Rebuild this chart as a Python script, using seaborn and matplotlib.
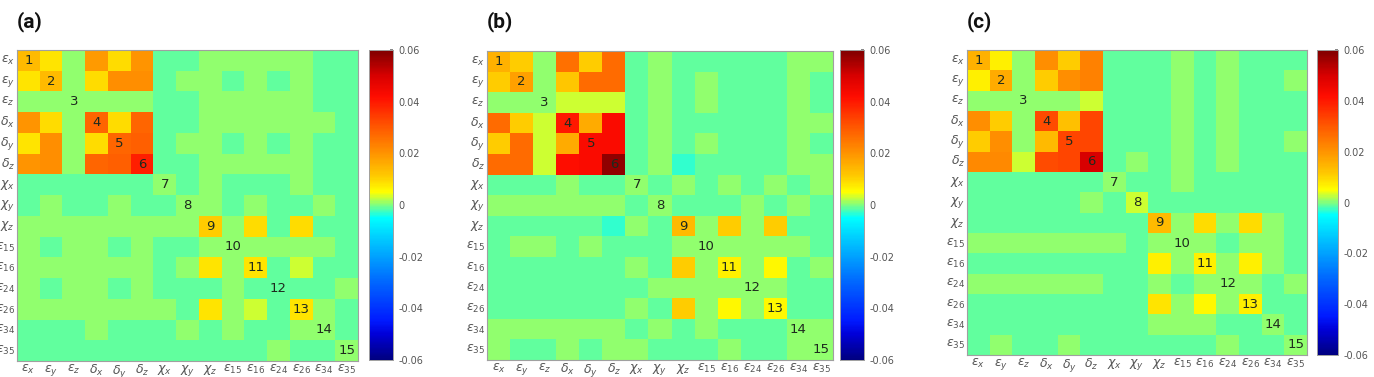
import numpy as np
import matplotlib
matplotlib.use("Agg")
import matplotlib.pyplot as plt
from matplotlib.colors import LinearSegmentedColormap
import seaborn as sns

sns.set_theme(style="white")
plt.rcParams['font.family'] = ['DejaVu Sans']
plt.rcParams['mathtext.fontset'] = 'dejavusans'

# ---------------- data ----------------
labels = [r'$\varepsilon_x$', r'$\varepsilon_y$', r'$\varepsilon_z$',
          r'$\delta_x$', r'$\delta_y$', r'$\delta_z$',
          r'$\chi_x$', r'$\chi_y$', r'$\chi_z$',
          r'$\varepsilon_{15}$', r'$\varepsilon_{16}$', r'$\varepsilon_{24}$',
          r'$\varepsilon_{26}$', r'$\varepsilon_{34}$', r'$\varepsilon_{35}$']
diag_labels = [str(i) for i in range(1, 16)]
panel_titles = ['(a)', '(b)', '(c)']
cbar_ticks = [-0.06, -0.04, -0.02, 0, 0.02, 0.04, 0.06]
cbar_ticklabels = ['-0.06', '-0.04', '-0.02', '0', '0.02', '0.04', '0.06']

M = -0.001   # mint green
G = 0.0007   # light green
L = 0.003    # yellow-green

corr_a = [
    [0.014, 0.008, G, 0.019, 0.009, 0.020, M, M, G, G, G, G, G, M, M],
    [0.008, 0.014, G, 0.009, 0.021, 0.021, M, G, G, M, G, M, G, M, M],
    [G, G, G, G, G, G, M, M, G, G, G, G, G, M, M],
    [0.020, 0.009, G, 0.028, 0.009, 0.028, M, M, G, G, G, G, G, G, M],
    [0.008, 0.021, G, 0.009, 0.028, 0.029, M, G, G, M, G, M, G, M, M],
    [0.020, 0.021, G, 0.028, 0.029, 0.039, M, M, G, G, G, G, G, M, M],
    [M, M, M, M, M, M, G, M, G, M, M, M, G, M, M],
    [M, G, M, M, G, M, M, G, G, M, G, M, M, G, M],
    [G, G, G, G, G, G, G, G, 0.011, G, 0.009, M, 0.009, M, M],
    [G, M, G, G, M, G, M, M, G, G, G, G, G, G, M],
    [G, G, G, G, G, G, M, G, 0.008, G, 0.008, M, L, M, M],
    [G, M, G, G, M, G, M, M, M, G, M, M, M, M, G],
    [G, G, G, G, G, G, G, M, 0.008, G, L, M, 0.008, G, M],
    [M, M, M, G, M, M, M, G, M, G, M, M, G, G, M],
    [M, M, M, M, M, M, M, M, M, M, M, G, M, M, G],
]

corr_b = [
    [0.015, 0.011, G, 0.026, 0.011, 0.027, M, G, M, M, M, M, M, G, G],
    [0.011, 0.018, G, 0.012, 0.027, 0.027, M, G, M, G, M, M, M, G, M],
    [G, G, G, L, L, L, M, G, M, G, M, M, M, G, M],
    [0.027, 0.011, L, 0.040, 0.016, 0.043, M, G, M, M, M, M, M, G, G],
    [0.011, 0.027, L, 0.016, 0.043, 0.043, M, G, M, G, M, M, M, G, M],
    [0.027, 0.027, L, 0.042, 0.043, 0.058, M, G, -0.003, M, M, M, M, G, G],
    [M, M, M, G, M, M, G, M, G, M, G, M, G, M, G],
    [G, G, G, G, G, G, M, G, M, M, M, G, M, G, M],
    [M, M, M, M, M, -0.003, G, M, 0.014, G, 0.011, G, 0.011, M, M],
    [M, G, G, M, G, M, M, M, G, G, G, G, G, G, M],
    [M, M, M, M, M, M, G, M, 0.011, G, 0.007, G, 0.006, M, G],
    [M, M, M, M, M, M, M, G, G, G, G, G, G, M, M],
    [M, M, M, M, M, M, G, M, 0.011, G, 0.006, G, 0.006, M, M],
    [G, G, G, G, G, G, M, G, M, G, M, M, M, G, G],
    [G, M, M, G, M, G, G, M, M, M, G, M, M, G, G],
]

corr_c = [
    [0.015, 0.007, G, 0.021, 0.011, 0.023, M, M, M, G, M, G, M, M, M],
    [0.007, 0.016, G, 0.011, 0.021, 0.023, M, M, M, G, M, G, M, M, G],
    [G, G, G, G, G, L, M, M, M, G, M, G, M, M, M],
    [0.021, 0.011, G, 0.032, 0.013, 0.033, M, M, M, G, M, G, M, M, M],
    [0.011, 0.021, G, 0.014, 0.033, 0.033, M, M, M, G, M, G, M, M, G],
    [0.022, 0.022, L, 0.032, 0.033, 0.050, M, G, M, G, M, G, M, M, M],
    [M, M, M, M, M, M, G, M, M, G, M, M, M, M, M],
    [M, M, M, M, M, G, M, L, M, M, M, M, M, M, M],
    [M, M, M, M, M, M, M, M, 0.014, G, 0.009, G, 0.009, G, M],
    [G, G, G, G, G, G, G, M, G, G, G, M, G, G, M],
    [M, M, M, M, M, M, M, M, 0.007, G, 0.007, G, 0.007, G, M],
    [G, G, G, G, G, G, M, M, G, M, G, G, G, M, G],
    [M, M, M, M, M, M, M, M, 0.008, G, 0.006, G, 0.007, M, M],
    [M, M, M, M, M, M, M, M, G, G, G, M, M, G, M],
    [M, G, M, M, G, M, M, M, M, M, M, G, M, M, G],
]

# ---------------- colormap (MATLAB-like jet, compressed near 0) ----------------
vmin, vmax = -0.06, 0.06
nodes = [(-0.06, (0.0, 0.0, 0.5)), (-0.05, (0.0, 0.0, 0.85)), (-0.045, (0.0, 0.1, 1.0)),
         (-0.03, (0.0, 0.4, 1.0)), (-0.015, (0.0, 0.75, 1.0)), (-0.005, (0.0, 1.0, 1.0)),
         (0.0, (0.5, 1.0, 0.5)), (0.005, (1.0, 1.0, 0.0)), (0.011, (1.0, 0.8, 0.0)),
         (0.02, (1.0, 0.58, 0.0)), (0.03, (1.0, 0.35, 0.0)), (0.042, (1.0, 0.05, 0.0)),
         (0.05, (0.85, 0.0, 0.0)), (0.06, (0.5, 0.0, 0.0))]
cmap = LinearSegmentedColormap.from_list(
    'jetlike', [((v - vmin) / (vmax - vmin), c) for v, c in nodes])

# ---------------- layout ----------------
W, H = 1374, 377
fig = plt.figure(figsize=(W / 100, H / 100), dpi=100)

def fbox(x0, y0, x1, y1):
    return [x0 / W, 1 - y1 / H, (x1 - x0) / W, (y1 - y0) / H]

axes_px = [(17, 50, 358, 361), (487, 51, 833, 360), (967, 50, 1307, 355)]
cax_px = [(369, 50, 393, 360), (840, 50, 864, 360), (1317, 50, 1338, 355)]
title_px = [(17, 22), (487, 22), (967, 22)]

annot = np.full((15, 15), '', dtype=object)
for i in range(15):
    annot[i, i] = diag_labels[i]

for data, apx, cpx, tpx, title in zip([corr_a, corr_b, corr_c], axes_px, cax_px,
                                       title_px, panel_titles):
    ax = fig.add_axes(fbox(*apx))
    cax = fig.add_axes(fbox(*cpx))
    sns.heatmap(np.array(data), ax=ax, cbar_ax=cax, cmap=cmap, vmin=vmin, vmax=vmax,
                annot=annot, fmt='', annot_kws={'color': '#1e2a1e', 'fontsize': 9.5},
                xticklabels=labels, yticklabels=labels, square=False)
    ax.tick_params(axis='both', which='major', length=0, labelsize=9,
                   labelcolor='#555555', pad=1.5)
    ax.set_xticklabels(labels, rotation=0)
    ax.set_yticklabels(labels, rotation=0)
    ax.set_xticks(np.arange(1, 15), minor=True)
    ax.set_yticks(np.arange(1, 15), minor=True)
    ax.tick_params(which='minor', direction='in', length=2.5, width=0.6,
                   color='#555555', top=True, right=True, bottom=True, left=True)
    for sp in ax.spines.values():
        sp.set_visible(True)
        sp.set_color('#a0a0a0')
        sp.set_linewidth(0.8)
    cax.set_yticks(cbar_ticks)
    cax.set_yticklabels(cbar_ticklabels)
    cax.tick_params(labelsize=7, labelcolor='#555555', length=2, direction='in',
                    color='#777777', pad=4)
    for sp in cax.spines.values():
        sp.set_visible(True)
        sp.set_color('#a0a0a0')
        sp.set_linewidth(0.6)
    fig.text(tpx[0] / W, 1 - tpx[1] / H, title, fontsize=15, fontweight='bold',
             family=['Roboto', 'DejaVu Sans'], va='center', ha='left', color='#111111')

fig.savefig('out.png', dpi=100)
